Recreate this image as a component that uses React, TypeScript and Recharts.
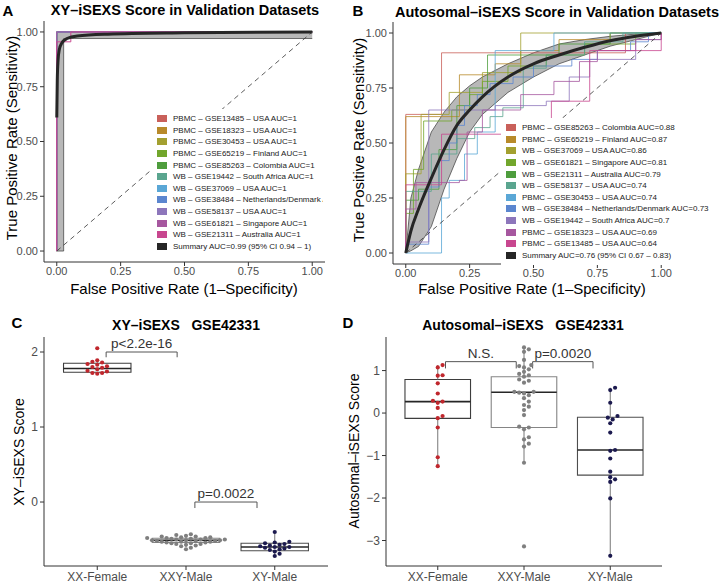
import React from 'react';
import {
  ComposedChart, ScatterChart, Line, Area, Scatter, XAxis, YAxis, ReferenceArea, ReferenceLine,
} from 'recharts';

const FONT = '"Liberation Sans", Arial, Helvetica, sans-serif';

// ROC palette, in legend order
const rocPalette = ['#c9605a', '#b88a2a', '#a3a030', '#72a62c', '#4e9d3d', '#5aa58f', '#5aa7d6', '#5b86cf', '#8d76bb', '#a6579f', '#c8468f'];
const summaryColor = '#262626';

// ---- Panel A: XY-iSEXS ----
const labelsA = [
  'PBMC – GSE13485 – USA AUC=1',
  'PBMC – GSE18323 – USA AUC=1',
  'PBMC – GSE30453 – USA AUC=1',
  'PBMC – GSE65219 – Finland AUC=1',
  'PBMC – GSE85263 – Colombia AUC=1',
  'WB – GSE19442 – South Africa AUC=1',
  'WB – GSE37069 – USA AUC=1',
  'WB – GSE38484 – Netherlands/Denmark AUC=1',
  'WB – GSE58137 – USA AUC=1',
  'WB – GSE61821 – Singapore AUC=1',
  'WB – GSE21311 – Australia AUC=1',
];
const summaryLabelA = 'Summary AUC=0.99 (95% CI 0.94 – 1)';
const perfectRoc = [[0, 0], [0, 1], [1, 1]];
const australiaA = [[0, 0], [0, 0.955], [0.055, 0.955], [0.055, 1], [1, 1]];
const curvesA = [perfectRoc, perfectRoc, perfectRoc, perfectRoc, perfectRoc, perfectRoc, perfectRoc, perfectRoc, perfectRoc, perfectRoc, australiaA];
const summaryA = [[0, 0.61], [0.002, 0.78], [0.005, 0.87], [0.01, 0.92], [0.02, 0.95], [0.04, 0.97], [0.08, 0.982], [0.2, 0.99], [0.5, 0.996], [1, 1]];
const bandAx = [0, 0.027, 0.027, 1];
const bandALow = [0, 0, 0.97, 0.97];
const bandAHigh = [1, 1, 1, 1];

// ---- Panel B: Autosomal-iSEXS ----
const labelsB = [
  'PBMC – GSE85263 – Colombia AUC=0.88',
  'PBMC – GSE65219 – Finland AUC=0.87',
  'WB – GSE37069 – USA AUC=0.86',
  'WB – GSE61821 – Singapore AUC=0.81',
  'WB – GSE21311 – Australia AUC=0.79',
  'WB – GSE58137 – USA AUC=0.74',
  'PBMC – GSE30453 – USA AUC=0.74',
  'WB – GSE38484 – Netherlands/Denmark AUC=0.73',
  'WB – GSE19442 – South Africa AUC=0.7',
  'PBMC – GSE18323 – USA AUC=0.69',
  'PBMC – GSE13485 – USA AUC=0.64',
];
const summaryLabelB = 'Summary AUC=0.76 (95% CI 0.67 – 0.83)';
const colombiaB = [[0, 0], [0, 0.63], [0.14, 0.63], [0.14, 0.91], [0.86, 0.91], [0.86, 1], [1, 1]];
const finlandB = [[0, 0], [0, 0.62], [0.21, 0.62], [0.21, 0.81], [0.35, 0.81], [0.35, 0.86], [0.45, 0.86], [0.45, 0.92], [0.6, 0.92], [0.6, 0.97], [0.8, 0.97], [0.8, 1], [1, 1]];
const usa37069B = [[0, 0], [0, 0.36], [0.06, 0.36], [0.06, 0.63], [0.17, 0.63], [0.17, 0.73], [0.3, 0.73], [0.3, 0.82], [0.45, 0.82], [0.45, 1], [1, 1]];
const singaporeB = [[0, 0], [0, 0.18], [0.03, 0.18], [0.03, 0.38], [0.07, 0.38], [0.07, 0.6], [0.18, 0.6], [0.18, 0.65], [0.25, 0.65], [0.25, 0.72], [0.3, 0.72], [0.3, 0.78], [0.4, 0.78], [0.4, 0.85], [0.55, 0.85], [0.55, 0.9], [0.7, 0.9], [0.7, 0.95], [0.9, 0.95], [0.9, 1], [1, 1]];
const australiaB = [[0, 0], [0, 0.24], [0.05, 0.24], [0.05, 0.29], [0.13, 0.29], [0.13, 0.47], [0.2, 0.47], [0.2, 0.67], [0.25, 0.67], [0.25, 0.75], [0.32, 0.75], [0.32, 0.9], [0.6, 0.9], [0.6, 0.95], [0.8, 0.95], [0.8, 1], [1, 1]];
const usa58137B = [[0, 0], [0, 0.28], [0.1, 0.28], [0.1, 0.45], [0.2, 0.45], [0.2, 0.52], [0.27, 0.52], [0.27, 0.57], [0.33, 0.57], [0.33, 0.62], [0.38, 0.62], [0.38, 0.66], [0.46, 0.66], [0.46, 0.84], [0.55, 0.84], [0.55, 0.9], [0.7, 0.9], [0.7, 0.96], [0.85, 0.96], [0.85, 1], [1, 1]];
const usa30453B = [[0, 0], [0.14, 0], [0.14, 0.25], [0.17, 0.25], [0.17, 0.33], [0.23, 0.33], [0.23, 0.45], [0.28, 0.45], [0.28, 0.55], [0.35, 0.55], [0.35, 0.92], [0.58, 0.92], [0.58, 1], [1, 1]];
const nlDkB = [[0, 0], [0, 0.04], [0.09, 0.04], [0.09, 0.3], [0.13, 0.3], [0.13, 0.42], [0.17, 0.42], [0.17, 0.5], [0.2, 0.5], [0.2, 0.58], [0.23, 0.58], [0.23, 0.67], [0.28, 0.67], [0.28, 0.72], [0.33, 0.72], [0.33, 0.77], [0.42, 0.77], [0.42, 0.8], [0.5, 0.8], [0.5, 0.85], [0.65, 0.85], [0.65, 0.88], [0.75, 0.88], [0.75, 0.92], [0.88, 0.92], [0.88, 0.96], [0.95, 0.96], [0.95, 1], [1, 1]];
const southAfricaB = [[0, 0], [0, 0.05], [0.09, 0.05], [0.09, 0.65], [0.35, 0.65], [0.35, 0.67], [0.55, 0.67], [0.55, 0.69], [0.64, 0.69], [0.64, 0.8], [0.72, 0.8], [0.72, 0.88], [0.9, 0.88], [0.9, 0.97], [1, 0.97], [1, 1]];
const usa18323B = [[0, 0], [0, 0.2], [0.04, 0.2], [0.04, 0.32], [0.21, 0.32], [0.21, 0.33], [0.24, 0.33], [0.24, 0.55], [0.3, 0.55], [0.3, 0.65], [0.45, 0.65], [0.45, 0.72], [0.58, 0.72], [0.58, 0.78], [0.68, 0.78], [0.68, 0.87], [0.75, 0.87], [0.75, 0.92], [0.9, 0.92], [0.9, 0.97], [1, 0.97], [1, 1]];
const usa13485B = [[0, 0], [0, 0.31], [0.14, 0.31], [0.14, 0.54], [0.57, 0.54], [0.57, 0.69], [0.72, 0.69], [0.72, 0.92], [1, 0.92], [1, 1]];
const curvesB = [colombiaB, finlandB, usa37069B, singaporeB, australiaB, usa58137B, usa30453B, nlDkB, southAfricaB, usa18323B, usa13485B];
const bandBx = [0, 0.02, 0.05, 0.1, 0.15, 0.2, 0.25, 0.3, 0.4, 0.5, 0.6, 0.7, 0.8, 0.9, 1];
const bandBLow = [0, 0.01, 0.03, 0.12, 0.29, 0.43, 0.55, 0.63, 0.73, 0.8, 0.86, 0.9, 0.94, 0.97, 1];
const bandBHigh = [0, 0.25, 0.38, 0.55, 0.64, 0.71, 0.76, 0.8, 0.86, 0.91, 0.95, 0.97, 0.985, 0.995, 1];
const summaryBy = [0, 0.1, 0.2, 0.34, 0.47, 0.58, 0.65, 0.71, 0.8, 0.86, 0.9, 0.935, 0.965, 0.985, 1];

const rocTicks = [0, 0.25, 0.5, 0.75, 1];

// ---- Panels C / D: GSE42331 ----
const groups = ['XX-Female', 'XXY-Male', 'XY-Male'];
const groupColors = ['#c0272d', '#7f7f7f', '#1c1a4f'];
const boxStroke = ['#3d3d3d', '#858585', '#4d4d4d'];

const xyFemale = [2.05, 1.89, 1.87, 1.86, 1.84, 1.83, 1.81, 1.8, 1.79, 1.77, 1.75, 1.74, 1.72, 1.72, 1.71];
const xyXxy = [-0.43, -0.44, -0.45, -0.46, -0.46, -0.47, -0.47, -0.48, -0.48, -0.48, -0.49, -0.49, -0.5, -0.5, -0.5, -0.51, -0.51, -0.51, -0.52, -0.52, -0.52, -0.53, -0.53, -0.53, -0.54, -0.54, -0.55, -0.55, -0.56, -0.56, -0.57, -0.58, -0.59, -0.61, -0.63];
const xyMale = [-0.4, -0.53, -0.54, -0.55, -0.56, -0.57, -0.58, -0.59, -0.6, -0.6, -0.61, -0.62, -0.63, -0.64, -0.66, -0.69, -0.72];
const xyQ1 = [1.73, -0.538, -0.65];
const xyMed = [1.78, -0.51, -0.6];
const xyQ3 = [1.85, -0.484, -0.55];
const xyLo = [1.71, -0.6, -0.72];
const xyHi = [1.89, -0.43, -0.4];

const autoFemale = [1.13, 1.075, 0.89, 0.88, 0.7, 0.46, 0.29, 0.27, 0.24, 0.12, -0.07, -0.12, -0.34, -1.04, -1.25];
const autoXxy = [1.545, 1.5, 1.44, 1.25, 1.13, 1.106, 1.075, 1.03, 0.97, 0.92, 0.89, 0.855, 0.79, 0.76, 0.714, 0.5, 0.5, 0.48, 0.463, 0.42, 0.35, 0.27, 0.19, 0.149, 0.07, -0.047, -0.32, -0.34, -0.384, -0.57, -0.62, -0.72, -0.79, -1.17, -3.14];
const autoMale = [0.596, 0.541, 0.243, -0.07, -0.11, -0.15, -0.24, -0.46, -0.87, -0.89, -1.07, -1.38, -1.51, -1.56, -1.62, -2.01, -3.36];
const autoQ1 = [-0.125, -0.34, -1.46];
const autoMed = [0.27, 0.49, -0.87];
const autoQ3 = [0.79, 0.855, -0.1];
const autoLo = [-1.25, -1.17, -3.36];
const autoHi = [1.13, 1.545, 0.596];

const xyBrackets = [
  { from: 1.1, to: 1.9, y: 2.0, foot: 1.93, label: 'p<2.2e-16' },
  { from: 2.1, to: 2.8, y: 0.0, foot: -0.08, label: 'p=0.0022' },
];
const autoBrackets = [
  { from: 1.09, to: 1.91, y: 1.21, foot: 1.05, label: 'N.S.' },
  { from: 2.1, to: 2.8, y: 1.21, foot: 1.05, label: 'p=0.0020' },
];

const toXY = (pts: number[][]) => pts.map(([x, y]) => ({ x, y }));

// simple beeswarm layout around a category centre
function swarm(vals: number[], cx: number, kx: number, ky: number, d: number) {
  const placed: [number, number][] = [];
  const out: { x: number; y: number }[] = [];
  [...vals].sort((a, b) => a - b).forEach((v) => {
    const py = v * ky;
    let off = 0;
    for (let k = 0; k < 80; k++) {
      const cand = (k % 2 === 1 ? 1 : -1) * Math.ceil(k / 2) * d * 0.55;
      if (placed.every(([qx, qy]) => Math.hypot(qx - cand, qy - py) >= d)) { off = cand; break; }
    }
    placed.push([off, py]);
    out.push({ x: cx + off / kx, y: v });
  });
  return out;
}

const axisTick = { fill: '#4d4d4d', fontSize: 11, fontFamily: FONT };

function RocChart({ curves, bandX, bandLow, bandHigh, summary, yW, xH, margin, faded }: any) {
  const rows = bandX.map((x: number, i: number) => ({ x, range: [bandLow[i], bandHigh[i]] }));
  return (
    <ComposedChart width={363} height={300} data={rows} margin={margin}>
      <XAxis type="number" dataKey="x" domain={[-0.05, 1.05]} ticks={rocTicks} allowDataOverflow
        tickFormatter={(v: number) => v.toFixed(2)} height={xH} stroke="#333" tickSize={4} tickMargin={1} tick={axisTick} />
      <YAxis type="number" domain={[-0.05, 1.05]} ticks={rocTicks} allowDataOverflow
        tickFormatter={(v: number) => v.toFixed(2)} width={yW} stroke="#333" tickSize={4} tick={axisTick} />
      {curves.map((c: number[][], i: number) => (
        <Line key={i} data={toXY(c)} dataKey="y" type="linear" dot={false} stroke={rocPalette[i]}
          strokeWidth={1} strokeOpacity={faded ? 0.8 : 1} isAnimationActive={false} />
      ))}
      <Area dataKey="range" type="linear" fill="#000" fillOpacity={0.28} stroke="#3a3a3a" strokeWidth={0.7} isAnimationActive={false} />
      <Line data={toXY(summary)} dataKey="y" type="monotone" dot={false} stroke={summaryColor} strokeWidth={3} isAnimationActive={false} />
      <Line data={toXY([[0, 0], [1, 1]])} dataKey="y" type="linear" dot={false} stroke="#333" strokeWidth={0.8} strokeDasharray="5 4" isAnimationActive={false} />
    </ComposedChart>
  );
}

function RocLegend({ labels, summary, left, top, width }: any) {
  const row = (color: string, text: string, key: number) => (
    <div key={key} style={{ display: 'flex', alignItems: 'center', height: 11.6 }}>
      <span style={{ width: 10, height: 7, background: color, marginRight: 6, flex: 'none' }} />
      <span>{text}</span>
    </div>
  );
  return (
    <div style={{ position: 'absolute', left, top, width, background: '#fff', padding: '4px 0 4px 5px', boxSizing: 'border-box',
      overflow: 'hidden', whiteSpace: 'nowrap', fontSize: 8, color: '#222' }}>
      {labels.map((l: string, i: number) => row(rocPalette[i], l, i))}
      {row(summaryColor, summary, 99)}
    </div>
  );
}

function BoxChart({ sets, q1, med, q3, lo, hi, brackets, domain, ticks, yW, margin, kx, ky }: any) {
  const hw = 0.38;
  return (
    <ScatterChart width={363} height={286} margin={margin}>
      <XAxis type="number" dataKey="x" domain={[0.4, 3.6]} ticks={[1, 2, 3]} allowDataOverflow
        tickFormatter={(v: number) => groups[v - 1]} height={20} stroke="#333" tickSize={4}
        tick={{ ...axisTick, fontSize: 12 }} />
      <YAxis type="number" dataKey="y" domain={domain} ticks={ticks} allowDataOverflow width={yW} stroke="#333" tickSize={4}
        tickFormatter={(v: number) => (v < 0 ? '−' + Math.abs(v) : String(v))} tick={{ ...axisTick, fontSize: 12 }} />
      {groups.map((g, i) => (
        <ReferenceLine key={'wl' + g} segment={[{ x: i + 1, y: lo[i] }, { x: i + 1, y: q1[i] }]} stroke="#777" strokeWidth={1} ifOverflow="visible" />
      ))}
      {groups.map((g, i) => (
        <ReferenceLine key={'wh' + g} segment={[{ x: i + 1, y: q3[i] }, { x: i + 1, y: hi[i] }]} stroke="#777" strokeWidth={1} ifOverflow="visible" />
      ))}
      {groups.map((g, i) => (
        <ReferenceArea key={'b' + g} x1={i + 1 - hw} x2={i + 1 + hw} y1={q1[i]} y2={q3[i]} fill="none"
          stroke={boxStroke[i]} strokeWidth={1.1} ifOverflow="visible" />
      ))}
      {groups.map((g, i) => (
        <ReferenceLine key={'m' + g} segment={[{ x: i + 1 - hw, y: med[i] }, { x: i + 1 + hw, y: med[i] }]} stroke="#262626" strokeWidth={1.6} ifOverflow="visible" />
      ))}
      {brackets.map((b: any) => (
        <ReferenceLine key={'br' + b.label} segment={[{ x: b.from, y: b.y }, { x: b.to, y: b.y }]} stroke="#555" strokeWidth={1} ifOverflow="visible"
          label={{ value: b.label, position: 'top', offset: 4, fill: '#333', fontSize: 13.5, fontFamily: FONT }} />
      ))}
      {brackets.map((b: any) => (
        <ReferenceLine key={'bl' + b.label} segment={[{ x: b.from, y: b.y }, { x: b.from, y: b.foot }]} stroke="#555" strokeWidth={1} ifOverflow="visible" />
      ))}
      {brackets.map((b: any) => (
        <ReferenceLine key={'bt' + b.label} segment={[{ x: b.to, y: b.y }, { x: b.to, y: b.foot }]} stroke="#555" strokeWidth={1} ifOverflow="visible" />
      ))}
      {sets.map((vals: number[], i: number) => (
        <Scatter key={'s' + i} data={swarm(vals, i + 1, kx, ky, 4.4)} fill={groupColors[i]} isAnimationActive={false}
          shape={(p: any) => <circle cx={p.cx} cy={p.cy} r={2.1} fill={groupColors[i]} />} />
      ))}
    </ScatterChart>
  );
}

const abs = (left: number, top: number, extra: any = {}) => ({ position: 'absolute' as const, left, top, ...extra });
const centered = (cx: number, cy: number, rotate = false) => ({
  position: 'absolute' as const, left: cx, top: cy, whiteSpace: 'nowrap' as const,
  transform: `translate(-50%, -50%)${rotate ? ' rotate(-90deg)' : ''}`,
});

export default function App() {
  return (
    <div style={{ position: 'absolute', left: 0, top: 0, width: 726, height: 586, background: '#fff', overflow: 'hidden', fontFamily: FONT, color: '#000' }}>
      <div style={abs(0, 0)}>
        <RocChart curves={curvesA} bandX={bandAx} bandLow={bandALow} bandHigh={bandAHigh} summary={summaryA}
          yW={44} xH={38} margin={{ top: 21, right: 38, bottom: 0, left: 0 }} />
      </div>
      <div style={abs(363, 0)}>
        <RocChart curves={curvesB} bandX={bandBx} bandLow={bandBLow} bandHigh={bandBHigh}
          summary={bandBx.map((x, i) => [x, summaryBy[i]])}
          yW={30} xH={36} margin={{ top: 22, right: 52, bottom: 0, left: 0 }} faded />
      </div>
      <div style={abs(0, 300)}>
        <BoxChart sets={[xyFemale, xyXxy, xyMale]} q1={xyQ1} med={xyMed} q3={xyQ3} lo={xyLo} hi={xyHi}
          brackets={xyBrackets} domain={[-0.853, 2.2]} ticks={[0, 1, 2]} yW={44}
          margin={{ top: 37, right: 35, bottom: 0, left: 0 }} kx={88.5} ky={75} />
      </div>
      <div style={abs(363, 300)}>
        <BoxChart sets={[autoFemale, autoXxy, autoMale]} q1={autoQ1} med={autoMed} q3={autoQ3} lo={autoLo} hi={autoHi}
          brackets={autoBrackets} domain={[-3.6, 1.79]} ticks={[-3, -2, -1, 0, 1]} yW={23}
          margin={{ top: 37, right: 64, bottom: 0, left: 0 }} kx={86.5} ky={42.5} />
      </div>

      <RocLegend labels={labelsA} summary={summaryLabelA} left={152} top={109} width={171} />
      <RocLegend labels={labelsB} summary={summaryLabelB} left={501} top={118} width={225} />

      {/* panel letters and titles */}
      <div style={{ ...centered(8, 10), fontWeight: 700, fontSize: 15 }}>A</div>
      <div style={{ ...centered(358, 10), fontWeight: 700, fontSize: 15 }}>B</div>
      <div style={{ ...centered(17, 322), fontWeight: 700, fontSize: 15 }}>C</div>
      <div style={{ ...centered(348, 322), fontWeight: 700, fontSize: 15 }}>D</div>
      <div style={{ ...centered(185, 10), fontWeight: 700, fontSize: 14.5 }}>XY–iSEXS Score in Validation Datasets</div>
      <div style={{ ...centered(557, 12), fontWeight: 700, fontSize: 14.5 }}>Autosomal–iSEXS Score in Validation Datasets</div>
      <div style={{ ...centered(186, 325), fontWeight: 700, fontSize: 14, whiteSpace: 'pre' }}>XY–iSEXS   GSE42331</div>
      <div style={{ ...centered(523, 325), fontWeight: 700, fontSize: 14, whiteSpace: 'pre' }}>Autosomal–iSEXS   GSE42331</div>

      {/* axis titles */}
      <div style={{ ...centered(11, 138, true), fontSize: 15 }}>True Positive Rate (Sensitivity)</div>
      <div style={{ ...centered(184, 288), fontSize: 15 }}>False Positive Rate (1–Specificity)</div>
      <div style={{ ...centered(358, 140, true), fontSize: 15 }}>True Positive Rate (Sensitivity)</div>
      <div style={{ ...centered(532, 288), fontSize: 15 }}>False Positive Rate (1–Specificity)</div>
      <div style={{ ...centered(19, 452, true), fontSize: 14 }}>XY–iSEXS Score</div>
      <div style={{ ...centered(354, 451, true), fontSize: 14 }}>Autosomal–iSEXS Score</div>
    </div>
  );
}
